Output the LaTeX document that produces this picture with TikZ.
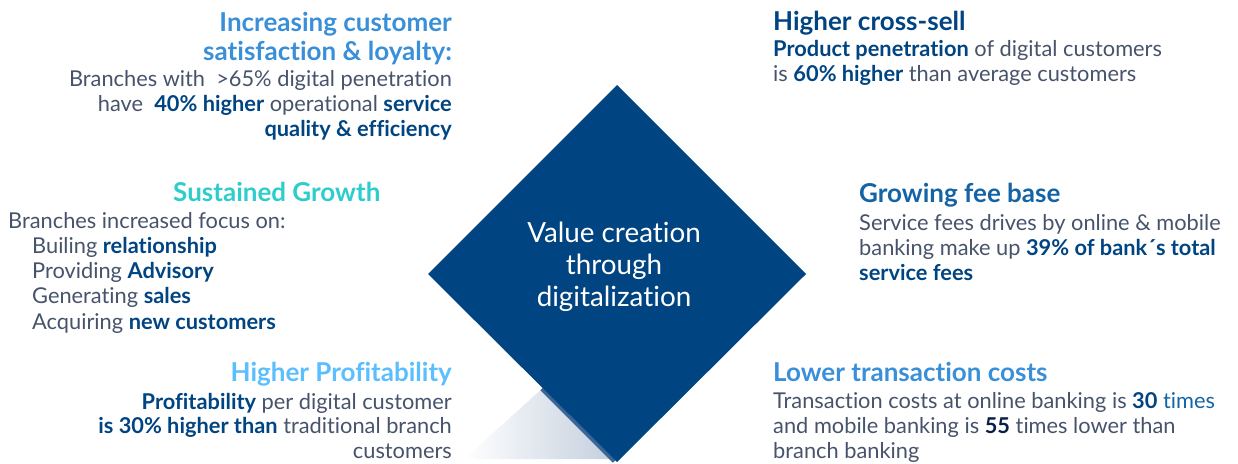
\documentclass[tikz,border=0pt]{standalone}
\usepackage{fontspec}
\setmainfont{Lato}[Ligatures=NoCommon]
\usetikzlibrary{shadings}
\definecolor{navy}{HTML}{004481}
\definecolor{bodyc}{HTML}{46536B}
\definecolor{tlblue}{HTML}{3A8FD9}
\definecolor{teal}{HTML}{2DCCCD}
\definecolor{skyb}{HTML}{5BBEFF}
\definecolor{midblue}{HTML}{1464A5}
\definecolor{shadowc}{HTML}{C3CEDD}
\definecolor{stripe}{HTML}{3A6698}
\definecolor{darkn}{HTML}{072146}
\newcommand{\bx}[1]{{\bfseries\color{navy}#1}}
\tikzset{
  ttl/.style={inner sep=0pt, font=\bfseries\fontsize{26}{30}\selectfont},
  bdy/.style={inner sep=0pt, text=bodyc, font=\fontsize{21.8}{25}\selectfont},
  ctr/.style={inner sep=0pt, text=white, font=\fontsize{27.8}{32}\selectfont, anchor=base},
  re/.style={anchor=base east},
  le/.style={anchor=base west}
}
\begin{document}
\begin{tikzpicture}[x=1pt,y=-1pt]
\useasboundingbox (0,0) rectangle (1238,463);
% shadow
\shade[left color=white, right color=shadowc] (464,459) -- (543,388) -- (616,459) -- cycle;
\draw[stripe, line width=3.5pt] (541.5,389) -- (614,461.5);
% diamond
\fill[navy] (617,85) -- (806,274) -- (617,462) -- (428,274) -- cycle;
\node[ctr] (c1) at (614,242.7) {Value creation};
\node[ctr] (c2) at (614,274) {through};
\node[ctr] (c3) at (614,306.5) {digitalization};
% top left
\node[ttl, re, text=tlblue] (a1) at (452,31.7) {Increasing customer};
\node[ttl, re, text=tlblue] (a2) at (452,60) {satisfaction \& loyalty:};
\node[bdy, re] (a3) at (452,86) {Branches with \ >65\% digital penetration};
\node[bdy, re] (a4) at (452,111.5) {have \ \bx{40\% higher} operational \bx{service}};
\node[bdy, re] (a5) at (452,136.7) {\bx{quality \& efficiency}};
% middle left
\node[ttl, le, text=teal] (b1) at (173,201.7) {Sustained Growth};
\node[bdy, le] (b2) at (8,228.3) {Branches increased focus on:};
\node[bdy, le] (b3) at (32,253.3) {Builing \bx{relationship}};
\node[bdy, le] (b4) at (32,278.3) {Providing \bx{Advisory}};
\node[bdy, le] (b5) at (32,303.3) {Generating \bx{sales}};
\node[bdy, le] (b6) at (32,329) {Acquiring \bx{new customers}};
% bottom left
\node[ttl, re, text=skyb] (d1) at (452,381.7) {Higher Profitability};
\node[bdy, re] (d2) at (452,409.3) {\bx{Profitability} per digital customer};
\node[bdy, re] (d3) at (452,433.5) {\bx{is 30\% higher than} traditional branch};
\node[bdy, re] (d4) at (452,458.3) {customers};
% top right
\node[ttl, le, text=navy] (e1) at (773,30) {Higher cross-sell};
\node[bdy, le] (e2) at (773,56) {\bx{Product penetration} of digital customers};
\node[bdy, le] (e3) at (773,81.7) {is \bx{60\% higher} than average customers};
% middle right
\node[ttl, le, text=midblue] (f1) at (859,202.3) {Growing fee base};
\node[bdy, le] (f2) at (859,230) {Service fees drives by online \& mobile};
\node[bdy, le] (f3) at (859,255) {banking make up \bx{39\% of bank´s total}};
\node[bdy, le] (f4) at (859,280) {\bx{service fees}};
% bottom right
\node[ttl, le, text=tlblue] (g1) at (773,381.7) {Lower transaction costs};
\node[bdy, le] (g2) at (773,408.3) {Transaction costs at online banking is \bx{30} {\color{midblue}times}};
\node[bdy, le] (g3) at (773,433.3) {and mobile banking is {\bfseries\color{darkn}55} times lower than};
\node[bdy, le] (g4) at (773,458.3) {branch banking};
\end{tikzpicture}
\end{document}
